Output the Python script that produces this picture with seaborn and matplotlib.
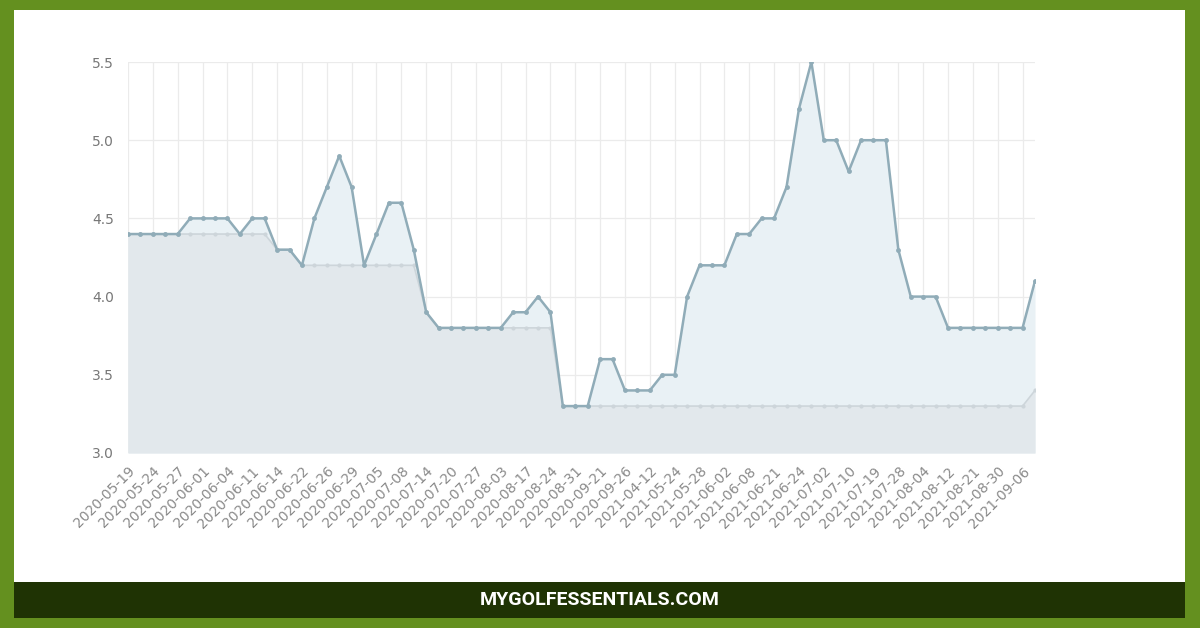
import matplotlib
import numpy as np
import pandas as pd
import seaborn as sns

matplotlib.use("Agg")
import matplotlib.pyplot as plt
from matplotlib.patches import Rectangle


tick_labels = [
    "2020-05-19", "2020-05-24", "2020-05-27", "2020-06-01", "2020-06-04",
    "2020-06-11", "2020-06-14", "2020-06-22", "2020-06-26", "2020-06-29",
    "2020-07-05", "2020-07-08", "2020-07-14", "2020-07-20", "2020-07-27",
    "2020-08-03", "2020-08-17", "2020-08-24", "2020-08-31", "2020-09-21",
    "2020-09-26", "2021-04-12", "2021-05-24", "2021-05-28", "2021-06-02",
    "2021-06-08", "2021-06-21", "2021-06-24", "2021-07-02", "2021-07-10",
    "2021-07-19", "2021-07-28", "2021-08-04", "2021-08-12", "2021-08-21",
    "2021-08-30", "2021-09-06",
]

upper_values = [
    4.4, 4.4, 4.4, 4.4, 4.4, 4.5, 4.5, 4.5, 4.5, 4.4,
    4.5, 4.5, 4.3, 4.3, 4.2, 4.5, 4.7, 4.9, 4.7, 4.2,
    4.4, 4.6, 4.6, 4.3, 3.9, 3.8, 3.8, 3.8, 3.8, 3.8,
    3.8, 3.9, 3.9, 4.0, 3.9, 3.3, 3.3, 3.3, 3.6, 3.6,
    3.4, 3.4, 3.4, 3.5, 3.5, 4.0, 4.2, 4.2, 4.2, 4.4,
    4.4, 4.5, 4.5, 4.7, 5.2, 5.5, 5.0, 5.0, 4.8, 5.0,
    5.0, 5.0, 4.3, 4.0, 4.0, 4.0, 3.8, 3.8, 3.8, 3.8,
    3.8, 3.8, 3.8, 4.1,
]

lower_values = [
    4.4, 4.4, 4.4, 4.4, 4.4, 4.4, 4.4, 4.4, 4.4, 4.4,
    4.4, 4.4, 4.3, 4.3, 4.2, 4.2, 4.2, 4.2, 4.2, 4.2,
    4.2, 4.2, 4.2, 4.2, 3.9, 3.8, 3.8, 3.8, 3.8, 3.8,
    3.8, 3.8, 3.8, 3.8, 3.8, 3.3, 3.3, 3.3, 3.3, 3.3,
    3.3, 3.3, 3.3, 3.3, 3.3, 3.3, 3.3, 3.3, 3.3, 3.3,
    3.3, 3.3, 3.3, 3.3, 3.3, 3.3, 3.3, 3.3, 3.3, 3.3,
    3.3, 3.3, 3.3, 3.3, 3.3, 3.3, 3.3, 3.3, 3.3, 3.3,
    3.3, 3.3, 3.3, 3.4,
]

y_ticks = [3.0, 3.5, 4.0, 4.5, 5.0, 5.5]

FRAME_GREEN = "#64901f"
BAND_GREEN = "#1f3304"
UPPER_COLOR = "#90acb8"
LOWER_COLOR = "#cdd5da"

sns.set_style("white")

df = pd.DataFrame({
    "pos": np.arange(len(upper_values)),
    "upper": upper_values,
    "lower": lower_values,
})

fig = plt.figure(figsize=(12, 6.28), dpi=100)
fig.patch.set_facecolor(FRAME_GREEN)

# white card and dark footer band
fig.patches.append(Rectangle((14 / 1200, 10 / 628), 1171 / 1200, 608 / 628,
                             transform=fig.transFigure, facecolor="white", edgecolor="none", zorder=-2))
fig.patches.append(Rectangle((14 / 1200, 10 / 628), 1171 / 1200, 36 / 628,
                             transform=fig.transFigure, facecolor=BAND_GREEN, edgecolor="none", zorder=-1))
fig.text(600 / 1200, 28 / 628, "MYGOLFESSENTIALS.COM", ha="center", va="center",
         color="white", fontsize=14, fontweight="bold",
         family=["Roboto", "DejaVu Sans"])

ax = fig.add_axes([128 / 1200, 175 / 628, 907 / 1200, 391 / 628])
ax.set_zorder(2)
ax.set_facecolor("white")

ax.fill_between(df["pos"], 3.0, df["upper"], color="#e9f1f5", linewidth=0, zorder=1)
ax.fill_between(df["pos"], 3.0, df["lower"], color="#e2e8ec", linewidth=0, zorder=1.5)

sns.lineplot(data=df, x="pos", y="lower", ax=ax, color=LOWER_COLOR, linewidth=1.2,
             marker="o", markersize=3, markeredgewidth=0, zorder=2)
sns.lineplot(data=df, x="pos", y="upper", ax=ax, color=UPPER_COLOR, linewidth=1.8,
             marker="o", markersize=3.5, markeredgewidth=0, zorder=3)

ax.set_xlim(0, len(upper_values) - 1)
ax.set_ylim(3.0, 5.5)
ax.set_xticks(np.arange(0, len(upper_values), 2))
ax.set_xticklabels(tick_labels, rotation=45, ha="right", rotation_mode="anchor",
                   fontsize=10, color="#8a8a8a")
ax.set_yticks(y_ticks)
ax.set_yticklabels([f"{v:.1f}" for v in y_ticks], fontsize=10, color="#777777")
ax.tick_params(axis="y", length=0, pad=10)
ax.tick_params(axis="x", length=4, color="#ebebeb", pad=4)
ax.set_xlabel("")
ax.set_ylabel("")
ax.grid(True, color="#ebebeb", linewidth=0.9, zorder=0)
ax.set_axisbelow(True)
for side in ["top", "right", "left", "bottom"]:
    ax.spines[side].set_visible(False)

fig.savefig("out.png", dpi=100, facecolor=fig.get_facecolor())
